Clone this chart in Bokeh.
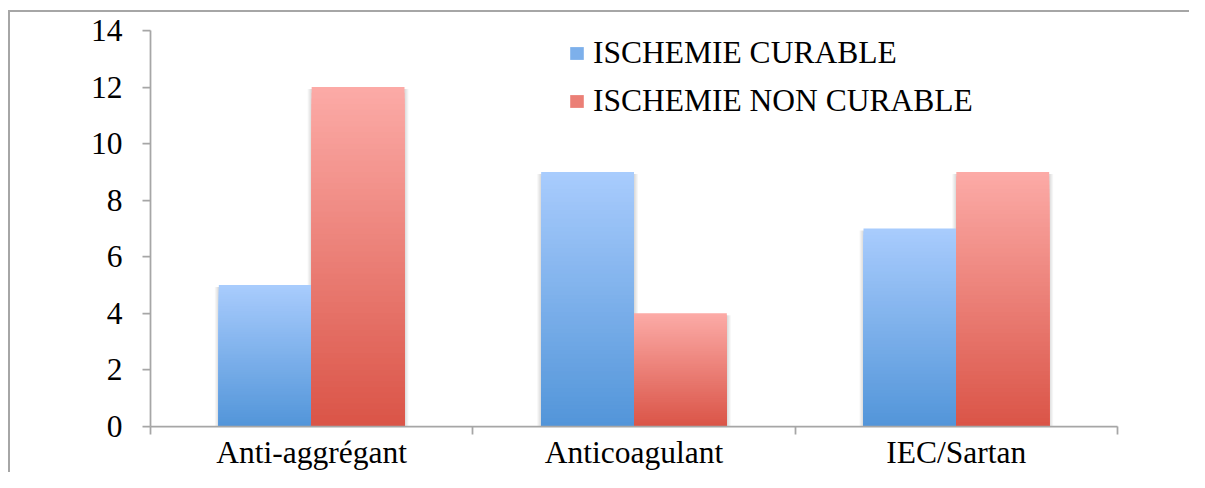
from bokeh.plotting import figure
from bokeh.models import (Range1d, FixedTicker, ColumnDataSource, Legend,
                          LegendItem, InlineStyleSheet)
from bokeh.embed import file_html
from bokeh.resources import INLINE

# ---- data ----
categories = ["Anti-aggrégant", "Anticoagulant", "IEC/Sartan"]
series_names = ["ISCHEMIE CURABLE", "ISCHEMIE NON CURABLE"]
curable = [5, 9, 7]
non_curable = [12, 4, 9]
y_ticks = [0, 2, 4, 6, 8, 10, 12, 14]

# ---- style ----
FONT = "Liberation Serif"
FSIZE = "31.5px"
AXIS_COLOR = "#a6a6a6"
blue_bottom, blue_top = "#5295d9", "#a9ccfd"
red_bottom, red_top = "#da5447", "#fcaba7"
BAR_W = 0.288
OFFSET = 0.144

W, H = 1189, 472
ML, MR, MT, MB = 150, 72, 30, 44
FRAME_W, FRAME_H = W - ML - MR, H - MT - MB

p = figure(width=W, height=H, output_backend="svg", toolbar_location=None,
           x_range=Range1d(0, len(categories)), y_range=Range1d(0, 14),
           min_border_left=ML, min_border_right=MR, min_border_top=MT,
           min_border_bottom=MB, background_fill_color="white",
           border_fill_color="white")
p.outline_line_color = None
p.xgrid.visible = False
p.ygrid.visible = False

# outer chart frame (left and top edges visible in the reference crop)
p.stylesheets = [InlineStyleSheet(css="""
:host { position: relative; }
:host::after { content: ''; position: absolute; left: 8px; top: 10px;
  right: 0; bottom: 0; border-left: 2px solid #a6a6a6;
  border-top: 2px solid #a6a6a6; pointer-events: none; z-index: 100; }
""")]

PX_X = len(categories) / FRAME_W
PX_Y = 14 / FRAME_H


def hex2rgb(h):
    return tuple(int(h[i:i + 2], 16) for i in (1, 3, 5))


def lerp(c0, c1, t):
    a, b = hex2rgb(c0), hex2rgb(c1)
    return "#%02x%02x%02x" % tuple(round(a[j] + (b[j] - a[j]) * t) for j in range(3))


N = 60


def gradient_source(values, offset, c_bottom, c_top):
    xs, tops, colors = [], [], []
    for k in range(N):
        frac = (N - k) / N
        t = (N - k - 0.5) / N
        col = lerp(c_bottom, c_top, t)
        for i, v in enumerate(values):
            xs.append(i + 0.5 + offset)
            tops.append(v * frac)
            colors.append(col)
    return ColumnDataSource(dict(x=xs, top=tops, color=colors))


# soft shadows
sh_x = [i + 0.5 - OFFSET for i in range(len(categories))] + \
       [i + 0.5 + OFFSET for i in range(len(categories))]
sh_top = [v - 2 * PX_Y for v in curable] + [v - 2 * PX_Y for v in non_curable]
for k in (4, 3, 2, 1):
    p.vbar(x=sh_x, top=sh_top, bottom=0, width=BAR_W + 2 * k * PX_X,
           fill_color="black", fill_alpha=0.035, line_color=None)

src_b = gradient_source(curable, -OFFSET, blue_bottom, blue_top)
src_r = gradient_source(non_curable, OFFSET, red_bottom, red_top)
rb = p.vbar(x="x", top="top", bottom=0, width=BAR_W, fill_color="color",
            line_color=None, source=src_b)
rr = p.vbar(x="x", top="top", bottom=0, width=BAR_W, fill_color="color",
            line_color=None, source=src_r)

# ---- axes ----
yax = p.yaxis[0]
yax.ticker = FixedTicker(ticks=y_ticks)
yax.major_tick_out = 8
yax.major_tick_in = 0
yax.minor_tick_out = 0
yax.minor_tick_in = 0
yax.axis_line_color = AXIS_COLOR
yax.axis_line_width = 1.75
yax.major_tick_line_color = AXIS_COLOR
yax.major_tick_line_width = 1.75
yax.major_label_text_font = FONT
yax.major_label_text_font_size = FSIZE
yax.major_label_text_color = "black"
yax.major_label_standoff = 20

xax = p.xaxis[0]
xax.ticker = FixedTicker(ticks=[i + 0.5 for i in range(len(categories))],
                         minor_ticks=list(range(len(categories) + 1)))
xax.major_label_overrides = {i + 0.5: c for i, c in enumerate(categories)}
xax.major_tick_out = 0
xax.major_tick_in = 0
xax.minor_tick_out = 8
xax.minor_tick_in = 0
xax.minor_tick_line_color = AXIS_COLOR
xax.minor_tick_line_width = 1.75
xax.axis_line_color = AXIS_COLOR
xax.axis_line_width = 1.75
xax.major_label_text_font = FONT
xax.major_label_text_font_size = FSIZE
xax.major_label_text_color = "black"
xax.major_label_standoff = 0

# ---- legend ----
mid = (N // 2) * len(categories)
legend = Legend(items=[LegendItem(label=series_names[0], renderers=[rb], index=mid),
                       LegendItem(label=series_names[1], renderers=[rr], index=mid)],
                location=(418, 307), padding=0, margin=0, spacing=12,
                label_height=36, glyph_width=17, glyph_height=16,
                label_standoff=8, border_line_color=None,
                background_fill_alpha=0, label_text_font=FONT,
                label_text_font_size=FSIZE, label_text_color="black")
p.add_layout(legend)

open("out.html", "w").write(file_html(p, INLINE))
